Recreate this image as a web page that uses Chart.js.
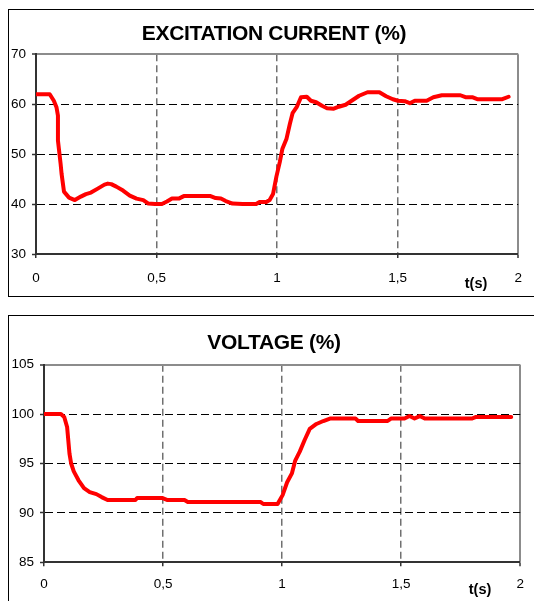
<!DOCTYPE html>
<html>
<head>
<meta charset="utf-8">
<script src="https://cdn.jsdelivr.net/npm/chart.js@4.4.1/dist/chart.umd.min.js"></script>
<style>
  body { margin: 0; background: #fff; overflow: hidden; width: 534px; height: 601px; position: relative; }
  .box { position: absolute; left: 8px; border: 1px solid #000; background: #fff; }
  .box canvas { display: block; }
  .txt { position: absolute; font-family: "Liberation Sans", Arial, sans-serif; font-weight: bold; color: #000; transform: translate(-50%, -50%); white-space: nowrap; }
  .title { font-size: 21px; letter-spacing: -0.3px; }
  .unit { font-size: 14.5px; }
</style>
</head>
<body>
<div class="box" style="top:9px;width:525px;height:286px;"><canvas id="cur" width="525" height="286"></canvas></div>
<div class="txt title" style="left:274px;top:33px;">EXCITATION CURRENT (%)</div>
<div class="txt unit" style="left:476px;top:283px;">t(s)</div>
<div class="box" style="top:315px;width:525px;height:285px;"><canvas id="vol" width="525" height="285"></canvas></div>
<div class="txt title" style="left:274px;top:342px;">VOLTAGE (%)</div>
<div class="txt unit" style="left:480px;top:589px;">t(s)</div>
<script>
// excitation current (%) against time (s)
const timeCurrent = [0, 0.057, 0.074, 0.085, 0.091, 0.091, 0.102, 0.106, 0.116, 0.137, 0.161, 0.186, 0.207, 0.228, 0.256, 0.284, 0.298, 0.312, 0.333, 0.361, 0.389, 0.417, 0.445, 0.466, 0.494, 0.522, 0.543, 0.564, 0.592, 0.613, 0.662, 0.724, 0.745, 0.767, 0.787, 0.815, 0.857, 0.913, 0.927, 0.955, 0.969, 0.983, 0.997, 1.011, 1.022, 1.039, 1.053, 1.064, 1.081, 1.099, 1.123, 1.140, 1.162, 1.186, 1.207, 1.235, 1.256, 1.284, 1.312, 1.340, 1.375, 1.424, 1.452, 1.480, 1.501, 1.529, 1.550, 1.571, 1.620, 1.648, 1.683, 1.760, 1.781, 1.809, 1.830, 1.934, 1.960];
const valueCurrent = [62, 62, 60.7, 59.4, 57.7, 52.75, 48.1, 46.1, 42.5, 41.3, 40.8, 41.5, 42.0, 42.3, 43.1, 43.9, 44.1, 44.0, 43.5, 42.7, 41.7, 41.1, 40.8, 40.1, 40.0, 40.0, 40.5, 41.1, 41.1, 41.6, 41.6, 41.6, 41.2, 41.1, 40.6, 40.1, 40.0, 40.0, 40.4, 40.4, 40.8, 42.0, 45.5, 48.4, 51.1, 53.1, 56.1, 58.2, 59.4, 61.4, 61.5, 60.7, 60.4, 59.7, 59.2, 59.1, 59.5, 59.9, 60.8, 61.7, 62.4, 62.4, 61.6, 61.0, 60.7, 60.6, 60.2, 60.7, 60.7, 61.4, 61.8, 61.8, 61.4, 61.4, 61.0, 61.0, 61.5];

// voltage (%) against time (s)
const timeVoltage = [0, 0.071, 0.085, 0.097, 0.107, 0.114, 0.125, 0.145, 0.168, 0.192, 0.220, 0.242, 0.267, 0.384, 0.391, 0.498, 0.519, 0.590, 0.604, 0.910, 0.921, 0.981, 1.002, 1.021, 1.041, 1.055, 1.074, 1.095, 1.116, 1.144, 1.173, 1.201, 1.308, 1.319, 1.443, 1.457, 1.514, 1.535, 1.556, 1.578, 1.599, 1.798, 1.812, 1.962];
const valueVoltage = [100, 100, 99.7, 98.7, 96.0, 95.0, 94.2, 93.3, 92.5, 92.1, 91.9, 91.6, 91.3, 91.3, 91.5, 91.5, 91.3, 91.3, 91.1, 91.1, 90.9, 90.9, 91.8, 93.1, 94.0, 95.3, 96.2, 97.4, 98.5, 99.0, 99.3, 99.55, 99.55, 99.3, 99.3, 99.55, 99.55, 99.8, 99.55, 99.8, 99.55, 99.55, 99.7, 99.7];

const timeTicks = [0, 0.5, 1, 1.5, 2];
const currentRange = [30, 70, 10];
const voltageRange = [85, 105, 5];

const font = 'Liberation Sans, Arial, sans-serif';

function toPoints(xs, ys) {
  return xs.map((x, i) => ({x: x, y: ys[i]}));
}

function createChart(id, xs, ys, range, lay) {
  const ctx = document.getElementById(id).getContext('2d');
  const ymin = range[0], ymax = range[1];
  return new Chart(ctx, {
    type: 'line',
    data: {
      datasets: [{
        data: toPoints(xs, ys),
        borderColor: '#ff0000',
        borderWidth: 4,
        pointRadius: 0,
        tension: 0,
        borderJoinStyle: 'round',
        borderCapStyle: 'round'
      }]
    },
    options: {
      responsive: false,
      animation: false,
      devicePixelRatio: 1,
      layout: { padding: { left: 0, right: lay.pr, top: lay.pt, bottom: 0 } },
      plugins: {
        legend: { display: false },
        tooltip: { enabled: false },
        title: { display: false }
      },
      scales: {
        x: {
          type: 'linear',
          min: 0,
          max: 2,
          afterBuildTicks: (s) => { s.ticks = timeTicks.map(v => ({value: v})); },
          afterFit: (s) => { s.height = lay.xh; },
          ticks: {
            color: '#000',
            font: { family: font, size: 13.5 },
            padding: lay.xp,
            maxRotation: 0,
            autoSkip: false,
            callback: (v) => String(v).replace('.', ',')
          },
          grid: {
            color: (c) => c.tick.value === 0 ? 'rgba(0,0,0,0)' : (c.tick.value === 2 ? '#8c8c8c' : '#707070'),
            lineWidth: (c) => c.tick.value === 2 ? 2 : 1.5,
            tickColor: '#333',
            tickLength: 4,
            tickWidth: 1.5
          },
          border: {
            color: '#333',
            width: 2,
            dash: (c) => (c.tick && c.tick.value === 2) ? [] : [7, 4]
          }
        },
        y: {
          min: ymin,
          max: ymax,
          afterFit: (s) => { s.width = lay.yw; },
          ticks: {
            stepSize: range[2],
            color: '#000',
            font: { family: font, size: 13.5 },
            padding: 6
          },
          grid: {
            color: (c) => c.tick.value === ymin ? 'rgba(0,0,0,0)' : (c.tick.value === ymax ? '#8c8c8c' : '#000'),
            lineWidth: (c) => c.tick.value === ymax ? 2 : 1,
            tickColor: '#333',
            tickLength: 4,
            tickWidth: 1.5
          },
          border: {
            color: '#333',
            width: 2,
            dash: (c) => (c.tick && c.tick.value === ymax) ? [] : [8, 4]
          }
        }
      }
    }
  });
}

let chartC = createChart('cur', timeCurrent, valueCurrent, currentRange,
  { pr: 10.3, yw: 27, pt: 44.3, xh: 42, xp: 12 });

let chartV = createChart('vol', timeVoltage, valueVoltage, voltageRange,
  { pr: 10.3, yw: 35, pt: 48.7, xh: 38.7, xp: 10 });
</script>
</body>
</html>
